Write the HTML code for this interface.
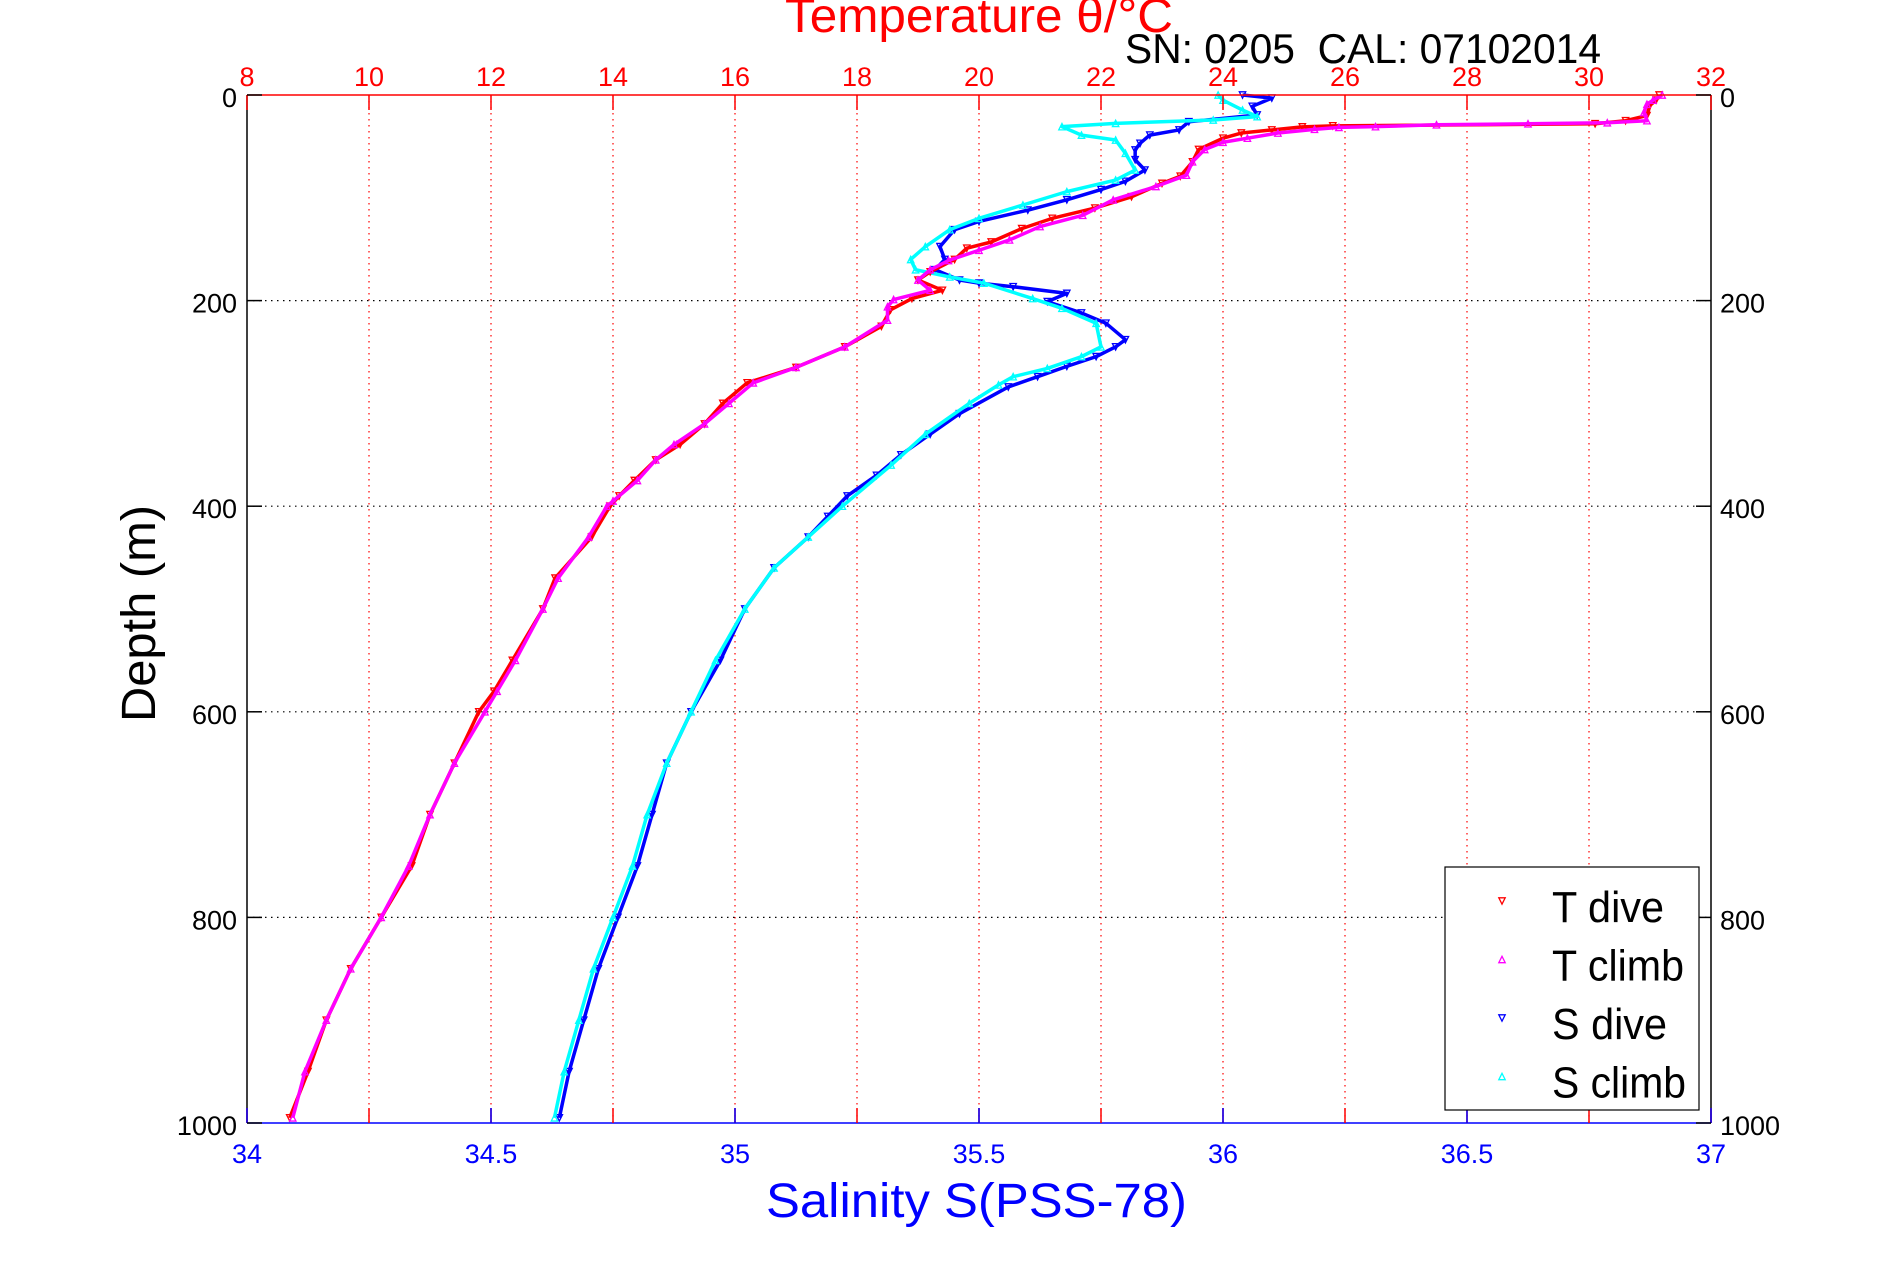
<!DOCTYPE html>
<html><head><meta charset="utf-8"><style>
html,body{margin:0;padding:0;background:#fff;}
svg{display:block;font-family:"Liberation Sans",Arial,sans-serif;}
</style></head><body>
<svg id="chart" width="1891" height="1262" viewBox="0 0 1891 1262" xmlns="http://www.w3.org/2000/svg">
<rect x="0" y="0" width="1891" height="1262" fill="#fff"/>
<g id="grid"></g>
<g id="series"></g>
<g id="axes"></g>
<text x="785" y="32" font-size="48" fill="#ff0000" textLength="388" lengthAdjust="spacingAndGlyphs">Temperature θ/°C</text>
<text x="1125" y="63" font-size="42" fill="#000" textLength="476" lengthAdjust="spacingAndGlyphs">SN: 0205&#160;&#160;CAL: 07102014</text>
<text x="766" y="1217" font-size="48" fill="#0000ff" textLength="421" lengthAdjust="spacingAndGlyphs">Salinity S(PSS-78)</text>
<text transform="translate(155,722) rotate(-90)" x="0" y="0" font-size="48" fill="#000" textLength="217" lengthAdjust="spacingAndGlyphs">Depth (m)</text>
<g id="legend">
<rect x="1445" y="867" width="254" height="243" fill="#fff" stroke="#000" stroke-width="1.2"/>
</g>
</svg>
<script>
// ---- data ----
const tempTicks = [8,10,12,14,16,18,20,22,24,26,28,30,32];
const salTicks = [34,34.5,35,35.5,36,36.5,37];
const salTickLabels = ["34","34.5","35","35.5","36","36.5","37"];
const depthTicks = [0,200,400,600,800,1000];

const tDiveDepth = [0,5,10,20,25,28,30,31,34,37,42,53,65,79,86,99,110,120,130,143,149,160,172,180,190,198,209,225,245,265,280,300,320,340,355,375,390,400,430,470,500,550,580,600,650,700,750,800,850,900,950,995];
const tDiveTemp  = [31.15,31.1,31.0,30.95,30.6,30.1,25.8,25.3,24.8,24.3,24.0,23.6,23.5,23.3,23.0,22.5,21.9,21.2,20.7,20.2,19.8,19.6,19.2,19.0,19.4,18.9,18.55,18.4,17.8,17.0,16.2,15.8,15.5,15.1,14.7,14.35,14.1,13.95,13.65,13.05,12.85,12.35,12.05,11.8,11.4,11.0,10.7,10.2,9.7,9.3,9.0,8.7];

const tClimbDepth = [0,5,9,17,25,27,28,29,30.8,31.5,33.4,37,42,46,53,65,78,89,102,117,128,141,151,161,170,180,190,199,206,219,245,265,280,300,320,340,355,375,395,400,430,470,500,550,580,600,650,700,750,800,850,900,950,995];
const tClimbTemp  = [31.2,31.05,30.95,30.9,30.95,30.3,29.0,27.5,26.5,25.9,25.5,24.9,24.4,24.0,23.7,23.5,23.4,22.9,22.2,21.7,21.0,20.5,20.0,19.5,19.2,19.0,19.2,18.6,18.5,18.5,17.8,17.0,16.3,15.9,15.5,15.0,14.7,14.4,14.0,13.9,13.6,13.1,12.85,12.4,12.1,11.9,11.4,11.0,10.65,10.2,9.7,9.3,8.95,8.75];

const sDiveDepth = [0,3,11,19.4,26,34,39,47,53.5,63,73,84,92,102,112,123,131,147.5,160,170,180,183,186.5,193,201,212,222,238,245,254.5,264,274,284,310,330,350,370,390,410,430,460,500,550,600,650,700,750,800,850,900,950,995];
const sDiveSal   = [36.04,36.1,36.06,36.07,35.93,35.91,35.85,35.83,35.82,35.82,35.84,35.8,35.75,35.68,35.6,35.5,35.45,35.42,35.43,35.41,35.46,35.5,35.57,35.68,35.64,35.71,35.76,35.8,35.78,35.74,35.68,35.62,35.56,35.46,35.4,35.34,35.29,35.23,35.19,35.15,35.08,35.02,34.97,34.91,34.86,34.83,34.8,34.76,34.72,34.69,34.66,34.64];

const sClimbDepth = [0,5,14.6,21,24.3,27.6,30.8,39,43.8,56.7,73,82.7,94,107,120,131,147.5,160,170,177,183,198,207.5,222,245,254.5,266,274,282,300,330,360,400,430,460,500,550,600,650,700,750,800,850,900,950,995];
const sClimbSal   = [35.99,36.0,36.04,36.07,35.98,35.78,35.67,35.71,35.78,35.8,35.82,35.78,35.68,35.59,35.5,35.44,35.39,35.36,35.37,35.44,35.51,35.61,35.67,35.74,35.75,35.71,35.64,35.57,35.54,35.48,35.39,35.32,35.22,35.15,35.08,35.02,34.96,34.91,34.86,34.82,34.79,34.75,34.71,34.68,34.65,34.63];

// ---- geometry ----
const L=247, R=1711, T=95, B=1123;
const xT = v => L + (v-8)/(32-8)*(R-L);
const xS = v => L + (v-34)/(37-34)*(R-L);
const yD = v => T + v/1000*(B-T);
const NS="http://www.w3.org/2000/svg";
function mk(tag, parent, attrs){const e=document.createElementNS(NS,tag);for(const k in attrs)e.setAttribute(k,attrs[k]);parent.appendChild(e);return e;}
const grid=document.getElementById('grid'), axes=document.getElementById('axes'), series=document.getElementById('series'), legend=document.getElementById('legend');

tempTicks.forEach(t=>{ if(t===8||t===32) return;
  const g=mk('line',grid,{x1:xT(t),x2:xT(t),y1:T,y2:B,stroke:'#ff0000','stroke-width':1.2,'stroke-dasharray':'1.5 4.5'});
  
  
});
depthTicks.forEach(d=>{ if(d===0||d===1000) return;
  const g=mk('line',grid,{x1:L,x2:R,y1:yD(d),y2:yD(d),stroke:'#000','stroke-width':1.2,'stroke-dasharray':'1.5 4.5'});
  
  
});

function tri(cx,cy,down,color,parent){
  const s=3.2;
  const pts = down ? [[cx-s,cy-s],[cx+s,cy-s],[cx,cy+s]] : [[cx-s,cy+s],[cx+s,cy+s],[cx,cy-s]];
  return mk('polygon',parent,{points:pts.map(p=>p.join(',')).join(' '),fill:'none',stroke:color,'stroke-width':1.3});
}
function drawSeries(name,depths,vals,xf,color,down){
  const g=mk('g',series,{});
  
  
  const pl=mk('polyline',g,{points:depths.map((d,i)=>xf(vals[i])+','+yD(d)).join(' '),fill:'none',stroke:color,'stroke-width':3.5,'stroke-linejoin':'round'});
  
  
  depths.forEach((d,i)=>{
    const m=tri(xf(vals[i]),yD(d),down,color,g);
    
    
  });
}
drawSeries('s-dive-series',sDiveDepth,sDiveSal,xS,'#0000ff',true);
drawSeries('s-climb-series',sClimbDepth,sClimbSal,xS,'#00ffff',false);
drawSeries('t-dive-series',tDiveDepth,tDiveTemp,xT,'#ff0000',true);
drawSeries('t-climb-series',tClimbDepth,tClimbTemp,xT,'#ff00ff',false);

let a;
a=mk('line',axes,{x1:L,x2:L,y1:T,y2:B,stroke:'#000','stroke-width':1.5});


a=mk('line',axes,{x1:R,x2:R,y1:T,y2:B,stroke:'#000','stroke-width':1.5});


a=mk('line',axes,{x1:L,x2:R,y1:T,y2:T,stroke:'#ff0000','stroke-width':1.5});


a=mk('line',axes,{x1:L,x2:R,y1:B,y2:B,stroke:'#0000ff','stroke-width':1.5});



tempTicks.forEach(t=>{
  const tk=mk('line',axes,{x1:xT(t),x2:xT(t),y1:T,y2:T+15,stroke:'#ff0000','stroke-width':1.5});
  
  
  const tk2=mk('line',axes,{x1:xT(t),x2:xT(t),y1:B,y2:B-15,stroke:'#ff0000','stroke-width':1.5});
  
  
  const lb=mk('text',axes,{x:xT(t),y:86,'font-size':27,fill:'#ff0000','text-anchor':'middle'});
  lb.textContent=String(t);
  
  
});
salTicks.forEach((s,i)=>{
  const tk=mk('line',axes,{x1:xS(s),x2:xS(s),y1:B,y2:B-15,stroke:'#0000ff','stroke-width':1.5});
  
  
  const lb=mk('text',axes,{x:xS(s),y:1163,'font-size':27,fill:'#0000ff','text-anchor':'middle'});
  lb.textContent=salTickLabels[i];
  
  
});
depthTicks.forEach(d=>{
  const t1=mk('line',axes,{x1:L,x2:L+15,y1:yD(d),y2:yD(d),stroke:'#000','stroke-width':1.5});
  
  
  const t2=mk('line',axes,{x1:R,x2:R-15,y1:yD(d),y2:yD(d),stroke:'#000','stroke-width':1.5});
  
  
  const l1=mk('text',axes,{x:237,y:yD(d)+12,'font-size':27,fill:'#000','text-anchor':'end'});
  l1.textContent=String(d);
  
  
  const l2=mk('text',axes,{x:1720,y:yD(d)+12,'font-size':27,fill:'#000','text-anchor':'start'});
  l2.textContent=String(d);
  
  
});

const legLabels=['T dive','T climb','S dive','S climb'];
const legColors=['#ff0000','#ff00ff','#0000ff','#00ffff'];
const legDown=[true,false,true,false];
const legWidths=[112,132,115,134];
legLabels.forEach((lab,i)=>{
  const cy=901+i*58.5;
  const m=tri(1502,cy,legDown[i],legColors[i],legend);
  
  
  const t=mk('text',legend,{x:1552,y:cy+21,'font-size':44,fill:'#000',textLength:legWidths[i],lengthAdjust:'spacingAndGlyphs'});
  t.textContent=lab;
  
  
});
</script>
</body></html>
